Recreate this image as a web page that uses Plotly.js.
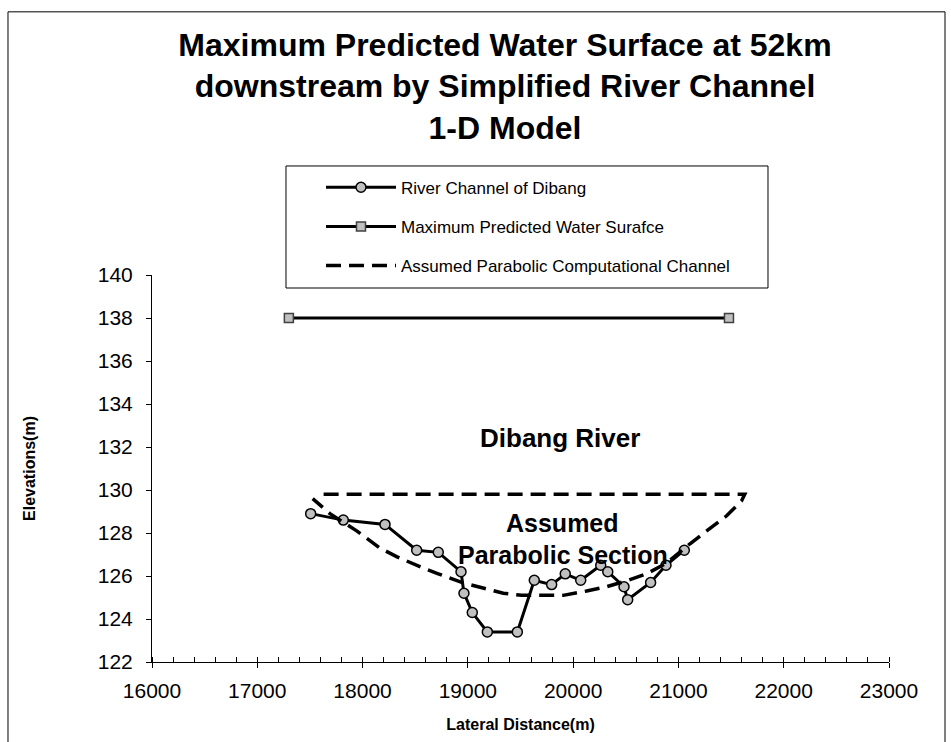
<!DOCTYPE html>
<html>
<head>
<meta charset="utf-8">
<script src="https://cdn.plot.ly/plotly-3.0.1.min.js"></script>
<style>
  html, body { margin: 0; padding: 0; background: #ffffff; }
  #chart { width: 951px; height: 742px; }
</style>
</head>
<body>
<div id="chart"></div>
<script>
// Surveyed cross-section of the Dibang river channel
const riverX = [17507, 17817, 18213, 18514, 18719, 18935, 18963, 19042, 19185, 19470, 19631,
                19796, 19925, 20072, 20262, 20329, 20483, 20518, 20736, 20882, 21056];
const riverY = [128.9, 128.6, 128.4, 127.2, 127.1, 126.2, 125.2, 124.3, 123.4, 123.4, 125.8,
                125.6, 126.1, 125.8, 126.5, 126.2, 125.5, 124.9, 125.7, 126.5, 127.2];

// Maximum predicted water surface level
const waterX = [17300, 21480];
const waterY = [138.0, 138.0];

// Assumed parabolic computational channel (top chord, then the curve back from right to left)
const paraX = [17630, 21630, 21600, 21458, 21268, 21110, 20887, 20697, 20523, 20318, 20128,
               19906, 19748, 19511, 19337, 19115, 18941, 18719, 18561, 18323, 18165, 17944, 17690, 17526];
const paraY = [129.8, 129.8, 129.5, 128.8, 128.1, 127.5, 126.6, 126.1, 125.8, 125.5, 125.3,
               125.1, 125.1, 125.1, 125.2, 125.5, 125.7, 126.1, 126.4, 126.9, 127.3, 128.1, 128.9, 129.6];

const xTicks = [16000, 17000, 18000, 19000, 20000, 21000, 22000, 23000];
const yTicks = [122, 124, 126, 128, 130, 132, 134, 136, 138, 140];

const FONT = 'Arial, "Liberation Sans", sans-serif';

const traces = [
  {
    x: riverX, y: riverY, type: 'scatter', mode: 'lines+markers',
    name: 'River Channel of Dibang', legendgroup: 'a',
    line: { color: '#000000', width: 3 },
    marker: { symbol: 'circle', size: 10, color: '#c0c0c0', line: { color: '#000000', width: 1.5 } }
  },
  {
    x: waterX, y: waterY, type: 'scatter', mode: 'lines+markers',
    name: 'Maximum Predicted Water Surafce', legendgroup: 'b',
    line: { color: '#000000', width: 3 },
    marker: { symbol: 'square', size: 9, color: '#c0c0c0', line: { color: '#404040', width: 1.5 } }
  },
  {
    x: paraX, y: paraY, type: 'scatter', mode: 'lines',
    name: 'Assumed Parabolic Computational Channel', legendgroup: 'c',
    line: { color: '#000000', width: 3.5, dash: '15px,8px' }
  },
  // carries the crossing half of the major x ticks
  { x: [16000], y: [122], xaxis: 'x2', yaxis: 'y', mode: 'markers', marker: { opacity: 0 },
    showlegend: false, hoverinfo: 'skip' }
];

const layout = {
  width: 951, height: 742,
  paper_bgcolor: '#ffffff', plot_bgcolor: '#ffffff',
  margin: { l: 152, r: 62, t: 275, b: 80 },
  font: { family: FONT, color: '#000000' },
  title: {
    text: 'Maximum Predicted Water Surface at 52km<br>downstream by Simplified River Channel<br>1-D Model',
    font: { family: FONT, size: 32, weight: 'bold', color: '#000000' },
    x: 0.531, xanchor: 'center', xref: 'container',
    y: 0.925, yanchor: 'top', yref: 'container'
  },
  xaxis: {
    range: [16000, 23000], tickvals: xTicks, ticktext: xTicks.map(String),
    showgrid: false, zeroline: false, showline: true, linecolor: '#000000', linewidth: 1,
    ticks: 'outside', ticklen: 5, tickcolor: '#000000', tickwidth: 1,
    minor: { dtick: 200, ticks: 'inside', ticklen: 5, tickcolor: '#000000', showgrid: false },
    tickfont: { family: FONT, size: 21 }, ticklabelstandoff: 5,
    title: { text: 'Lateral Distance(m)', font: { family: FONT, size: 16, weight: 'bold' }, standoff: 17 }
  },
  xaxis2: {
    range: [16000, 23000], overlaying: 'x', anchor: 'y', side: 'bottom', tickvals: xTicks,
    showticklabels: false, showgrid: false, zeroline: false, showline: false,
    ticks: 'inside', ticklen: 5, tickcolor: '#000000', tickwidth: 1
  },
  yaxis: {
    range: [122, 140], tickvals: yTicks, ticktext: yTicks.map(String),
    showgrid: false, zeroline: false, showline: true, linecolor: '#000000', linewidth: 1,
    ticks: 'outside', ticklen: 5, tickcolor: '#000000', tickwidth: 1,
    tickfont: { family: FONT, size: 21 }, ticklabelstandoff: 9,
    title: { text: 'Elevations(m)', font: { family: FONT, size: 16, weight: 'bold' }, standoff: 58 }
  },
  showlegend: true,
  legend: {
    x: 0.2293, y: 1.272, xanchor: 'left', yanchor: 'top',
    bgcolor: 'rgba(0,0,0,0)', borderwidth: 0,
    font: { family: FONT, size: 17, color: '#000000' },
    itemwidth: 70, traceorder: 'grouped', tracegroupgap: 14
  },
  annotations: [
    { text: '<b>Dibang River</b>', x: 19875, y: 132.42, xref: 'x', yref: 'y', showarrow: false,
      font: { family: FONT, size: 26 } },
    { text: '<b>Assumed</b>', x: 19903, y: 128.47, xref: 'x', yref: 'y', showarrow: false,
      font: { family: FONT, size: 25 } },
    { text: '<b>Parabolic Section</b>', x: 19903, y: 126.98, xref: 'x', yref: 'y', showarrow: false,
      font: { family: FONT, size: 25 } }
  ],
  shapes: [
    // outer chart frame
    { type: 'rect', xref: 'paper', yref: 'paper', x0: -0.1954, x1: 1.076, y0: -0.3, y1: 1.68,
      line: { color: '#000000', width: 1 }, fillcolor: 'rgba(0,0,0,0)', layer: 'below' },
    // legend box
    { type: 'rect', xref: 'paper', yref: 'paper', x0: 0.1818, x1: 0.8358, y0: 0.9664, y1: 1.2817,
      line: { color: '#000000', width: 1 }, fillcolor: '#ffffff', layer: 'below' }
  ]
};

Plotly.newPlot('chart', traces, layout, { displayModeBar: false, staticPlot: true });
</script>
</body>
</html>
